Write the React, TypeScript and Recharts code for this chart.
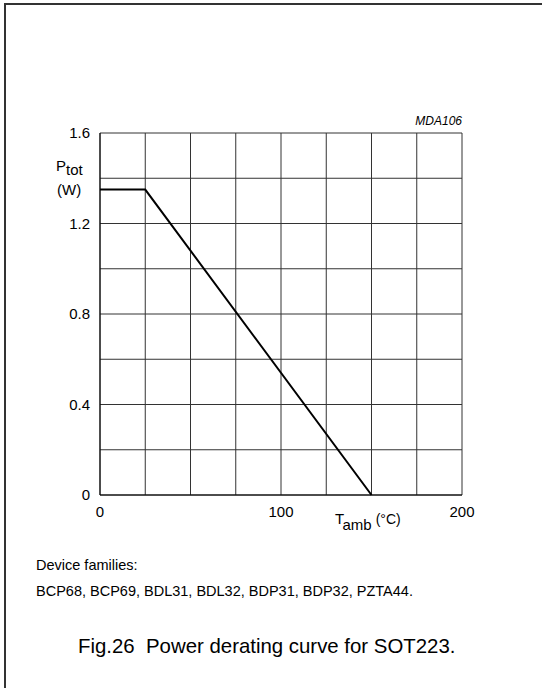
import { LineChart, Line, XAxis, YAxis, CartesianGrid } from 'recharts';

// derating curve: ambient temperature (°C) vs total power (W)
const temps = [0, 25, 150];
const powers = [1.35, 1.35, 0];

const xTicks = [0, 25, 50, 75, 100, 125, 150, 175, 200];
const xLabels = [0, 100, 200];
const yTicks = [0, 0.2, 0.4, 0.6, 0.8, 1.0, 1.2, 1.4, 1.6];
const yLabels = [0, 0.4, 0.8, 1.2, 1.6];

const families = ['BCP68', 'BCP69', 'BDL31', 'BDL32', 'BDP31', 'BDP32', 'PZTA44'];

const data = temps.map((t, i) => ({ t, p: powers[i] }));

const font = '"Liberation Sans", Arial, sans-serif';

const abs = (left: number, top: number, extra: React.CSSProperties = {}): React.CSSProperties => ({
  position: 'absolute', left, top, whiteSpace: 'nowrap', lineHeight: 1, fontFamily: font, color: '#000', ...extra,
});

const App = () => {
  return (
    <div style={{ position: 'absolute', left: 0, top: 0, width: 542, height: 688, background: '#fff', fontFamily: font }}>
      <div style={{ position: 'absolute', left: 4, top: 3, width: 538, height: 685, borderLeft: '2px solid #333', borderTop: '2px solid #333' }} />
      <LineChart width={542} height={688} data={data} margin={{ top: 133, right: 80, bottom: 163, left: 60 }}>
        <CartesianGrid stroke="#333" strokeWidth={1} />
        <XAxis
          dataKey="t" type="number" domain={[0, 200]} ticks={xTicks} height={30}
          tickLine={false} tickMargin={5} axisLine={{ stroke: '#000' }}
          tick={{ fill: '#000', fontSize: 15, fontFamily: font }}
          tickFormatter={(v: number) => (xLabels.includes(v) ? String(v) : '')}
        />
        <YAxis
          type="number" domain={[0, 1.6]} ticks={yTicks} width={40}
          tickLine={false} tickMargin={4} axisLine={{ stroke: '#000' }}
          tick={{ fill: '#000', fontSize: 15, fontFamily: font }}
          tickFormatter={(v: number) => (yLabels.some(l => Math.abs(l - v) < 1e-9) ? (v === 0 ? '0' : v.toFixed(1)) : '')}
        />
        <Line dataKey="p" stroke="#000" strokeWidth={2} dot={false} isAnimationActive={false} type="linear" />
      </LineChart>

      <div style={abs(0, 115, { width: 462, textAlign: 'right', fontSize: 12, fontStyle: 'italic' })}>MDA106</div>

      <div style={abs(56, 158, { fontSize: 15 })}>P<span style={{ position: 'relative', top: 4 }}>tot</span></div>
      <div style={abs(57, 182, { fontSize: 15 })}>(W)</div>

      <div style={abs(335, 511, { fontSize: 15 })}>
        T<span style={{ position: 'relative', top: 6 }}>amb</span>
        <span style={{ fontSize: 14, marginLeft: 4 }}>(°C)</span>
      </div>

      <div style={abs(36, 558, { fontSize: 14.5 })}>Device families:</div>
      <div style={abs(36, 584, { fontSize: 14.5 })}>{families.join(', ')}.</div>

      <div style={abs(78, 636, { fontSize: 20.4 })}>Fig.26&nbsp;&nbsp;Power derating curve for SOT223.</div>
    </div>
  );
};

export default App;
